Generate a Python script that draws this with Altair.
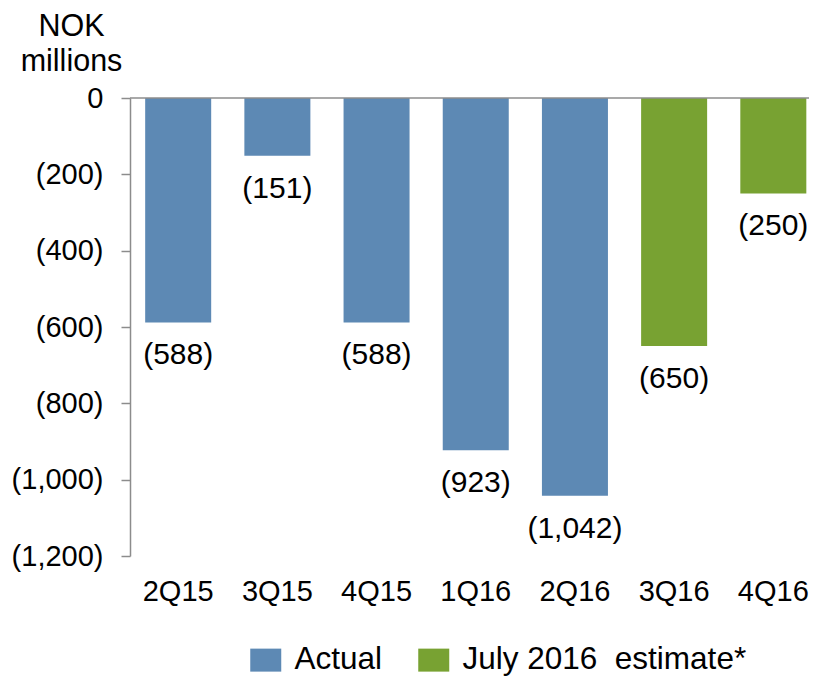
import altair as alt
import pandas as pd

quarters = ["2Q15", "3Q15", "4Q15", "1Q16", "2Q16", "3Q16", "4Q16"]
values = [-588, -151, -588, -923, -1042, -650, -250]
series = ["Actual", "Actual", "Actual", "Actual", "Actual",
          "July 2016\u00a0 estimate*", "July 2016\u00a0 estimate*"]
series_names = ["Actual", "July 2016\u00a0 estimate*"]
series_colors = ["#5D89B4", "#78A232"]
y_ticks = [-1200, -1000, -800, -600, -400, -200, 0]

df = pd.DataFrame({
    "quarter": quarters,
    "value": values,
    "series": series,
    "label": [f"({abs(v):,})" for v in values],
})

FONT = "Liberation Sans"
GRAY = "#8C8C8C"

x_enc = alt.X(
    "quarter:N",
    sort=quarters,
    scale=alt.Scale(paddingInner=0.3345, paddingOuter=0.09, align=0.85),
    axis=alt.Axis(
        title=None, domain=False, ticks=False, labelAngle=0,
        labelFontSize=29, labelColor="#000000", labelFont=FONT,
        labelPadding=21,
    ),
)

y_enc = alt.Y(
    "value:Q",
    scale=alt.Scale(domain=[-1200, 0], nice=False, zero=True),
    axis=alt.Axis(
        values=y_ticks,
        labelExpr="datum.value == 0 ? '0' : '(' + format(abs(datum.value), ',') + ')'",
        grid=False,
        domainColor=GRAY, domainWidth=1.5,
        tickColor=GRAY, tickWidth=1.5, tickSize=9,
        labelFontSize=29, labelColor="#000000", labelFont=FONT,
        labelPadding=18,
        title=["NOK", "millions"],
        titleAngle=0, titleAlign="center", titleBaseline="alphabetic",
        titleX=-59, titleY=-63, titleLineHeight=35,
        titleFontSize=30.5, titleFontWeight="normal", titleFont=FONT,
        titleColor="#000000",
    ),
)

bars = alt.Chart(df).mark_bar().encode(
    x=x_enc,
    y=y_enc,
    color=alt.Color(
        "series:N",
        scale=alt.Scale(domain=series_names, range=series_colors),
        legend=alt.Legend(
            title=None, orient="none", direction="horizontal",
            legendX=120, legendY=546,
            symbolType="M-1,-0.742L1,-0.742L1,0.742L-1,0.742Z",
            symbolSize=961, symbolStrokeWidth=0, symbolOpacity=1,
            labelFontSize=31.5, labelFont=FONT, labelColor="#000000",
            labelOffset=13, columnPadding=35, labelLimit=0, padding=0,
        ),
    ),
)

labels = alt.Chart(df).mark_text(
    baseline="middle", align="center", dy=33, fontSize=30, font=FONT,
    color="#000000",
).encode(
    x=alt.X("quarter:N", sort=quarters),
    y="value:Q",
    text="label:N",
)

zero = alt.Chart(pd.DataFrame({"z": [0]})).mark_rule(
    color=GRAY, strokeWidth=1.5
).encode(y="z:Q")

chart = alt.layer(bars, labels, zero).properties(
    width=679, height=458,
    autosize=alt.AutoSizeParams(type="none"),
    padding={"left": 122, "top": 90, "right": 0, "bottom": 120},
).configure_view(stroke=None)

chart.save("out.html", embed_options={"renderer": "svg", "actions": False})
